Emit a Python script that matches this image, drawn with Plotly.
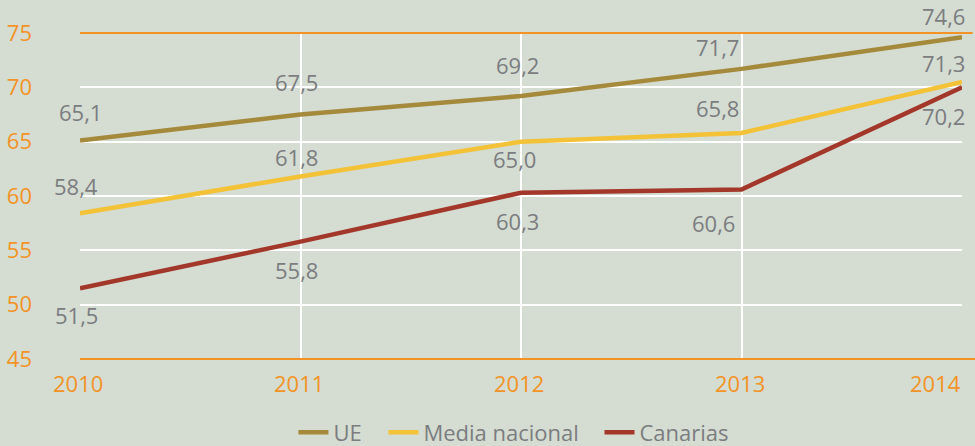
import plotly.graph_objects as go

years = [2010, 2011, 2012, 2013, 2014]
ue = [65.1, 67.5, 69.2, 71.7, 74.6]
media_nacional = [58.4, 61.8, 65.0, 65.8, 70.5]
canarias = [51.5, 55.8, 60.3, 60.6, 70.0]

ue_labels = ["65,1", "67,5", "69,2", "71,7", "74,6"]
media_labels = ["58,4", "61,8", "65,0", "65,8", "71,3"]
canarias_labels = ["51,5", "55,8", "60,3", "60,6", "70,2"]

y_ticks = [45, 50, 55, 60, 65, 70, 75]

BG = "#d5dcd2"
ORANGE = "#f39325"
GREY = "#7b7d80"
FONT = "Open Sans"

series = [
    ("UE", ue, ue_labels, "#a58a3b", "legend"),
    ("Media nacional", media_nacional, media_labels, "#f3c237", "legend2"),
    ("Canarias", canarias, canarias_labels, "#a3372a", "legend3"),
]

# label offsets in pixels (style, per series / per point)
offsets = {
    "UE": [(0, 29), (-4, 33), (-4, 31), (-24, 22), (-19, 21)],
    "Media nacional": [(-4, 27), (-4, 19), (-7, -17), (-24, 25), (-19, 19)],
    "Canarias": [(-4, -27), (-4, -28), (-4, -28), (-28, -34), (-19, -29)],
}

fig = go.Figure()
annotations = []
for name, vals, labs, color, leg in series:
    fig.add_trace(go.Scatter(
        x=years, y=vals, mode="lines", name=name,
        line=dict(color=color, width=4.5),
        hoverinfo="skip", legend=leg,
    ))
    for i, (x, y, t) in enumerate(zip(years, vals, labs)):
        dx, dy = offsets[name][i]
        annotations.append(dict(
            x=x, y=y, text=t, showarrow=False, xshift=dx, yshift=dy,
            font=dict(family=FONT, size=22, color=GREY),
            xanchor="center", yanchor="middle",
        ))

# x tick labels
for i, yr in enumerate(years):
    last = i == len(years) - 1
    annotations.append(dict(
        x=yr, y=0, xref="x", yref="paper", text=str(yr), showarrow=False,
        xanchor="right" if last else "center", yanchor="middle",
        xshift=1 if last else -2, yshift=-24,
        font=dict(family=FONT, size=22, color=ORANGE),
    ))

shapes = [
    dict(type="line", xref="paper", yref="paper", x0=0, x1=1.012,
         y0=1, y1=1, line=dict(color=ORANGE, width=2), layer="above"),
    dict(type="line", xref="paper", yref="paper", x0=0, x1=1.02,
         y0=0, y1=0, line=dict(color=ORANGE, width=2), layer="above"),
]

legend_style = dict(
    orientation="h", xanchor="left", y=-0.225, yanchor="middle",
    font=dict(family=FONT, size=22, color=GREY),
    bgcolor="rgba(0,0,0,0)", itemwidth=30, borderwidth=0,
)

fig.update_layout(
    width=975, height=446,
    margin=dict(l=80, r=13, t=33, b=87, autoexpand=False),
    paper_bgcolor=BG, plot_bgcolor=BG,
    font=dict(family=FONT, size=22, color=GREY),
    showlegend=True,
    legend=dict(x=0.242, **legend_style),
    legend2=dict(x=0.344, **legend_style),
    legend3=dict(x=0.589, **legend_style),
    xaxis=dict(
        range=[years[0], years[-1]], tickvals=years[1:-1], showticklabels=False,
        showgrid=True, gridcolor="white", gridwidth=2, zeroline=False,
        showline=False, ticks="", fixedrange=True, automargin=False,
    ),
    yaxis=dict(
        range=[y_ticks[0], y_ticks[-1]], tickvals=y_ticks,
        ticktext=[str(v) for v in y_ticks],
        showgrid=True, gridcolor="white", gridwidth=2, zeroline=False,
        showline=False, ticks="", ticklabelstandoff=47, automargin=False,
        tickfont=dict(family=FONT, size=22, color=ORANGE), fixedrange=True,
    ),
    annotations=annotations,
    shapes=shapes,
)

fig.write_html(
    "out.html",
    config={"displayModeBar": False},
    post_script="document.body.style.margin='0';document.body.style.overflow='hidden';",
)
